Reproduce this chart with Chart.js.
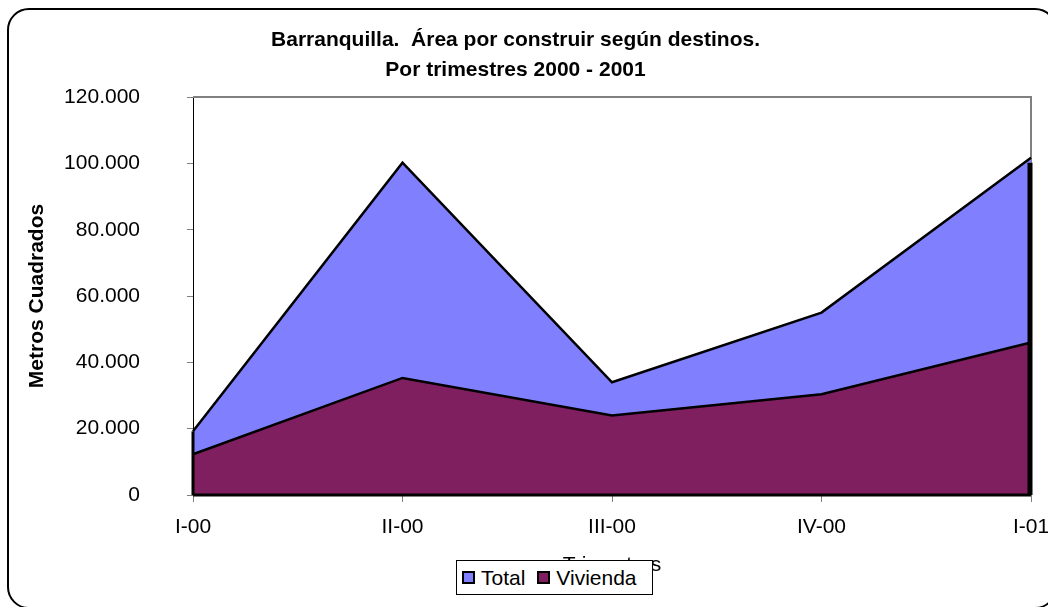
<!doctype html>
<html>
<head>
    <meta charset="UTF-8"/>
    <title>Barranquilla</title>
    <style type="text/css">
        body{ margin:0; background:#fff; overflow:hidden; }
        .frame{
            position:absolute; left:7px; top:8px; width:1050px; height:601px;
            border:2px solid #000; border-radius:22px; box-sizing:border-box;
        }
        .chartBox{ position:absolute; left:0; top:0; width:1048px; height:607px; }
        .legend{
            position:absolute; left:456px; top:560px; width:197px; height:35px;
            background:#fff; border:1px solid #000; box-sizing:border-box;
            font-family:"Liberation Sans", Arial, sans-serif; font-size:21px;
            display:flex; align-items:center; padding-left:5px;
        }
        .legend span.box{
            display:inline-block; width:9px; height:9px; border:2px solid #000;
            margin-right:6px;
        }
        .legend span.item{ margin-right:12px; display:flex; align-items:center; }
    </style>
</head>
<body>
    <div class="frame"></div>
    <div class="chartBox">
        <canvas id="myChart" width="1048" height="607"></canvas>
    </div>
    <div class="legend">
        <span class="item"><span class="box" style="background:#8080FF"></span>Total</span>
        <span class="item"><span class="box" style="background:#7F1F5F"></span>Vivienda</span>
    </div>

    <script src="https://cdn.jsdelivr.net/npm/chart.js"></script>

    <script>
        const labels = ['I-00', 'II-00', 'III-00', 'IV-00', 'I-01'];
        const totalData = [19200, 100200, 34000, 55000, 101700];
        const viviendaData = [12300, 35300, 24000, 30400, 46000];
        const yTicks = [0, 20000, 40000, 60000, 80000, 100000, 120000];

        const font = 'Liberation Sans, Arial, sans-serif';

        function fmt(v) {
            return String(v).replace(/\B(?=(\d{3})+(?!\d))/g, '.');
        }

        // plot border and the dark edges at both ends of the area
        const edges = {
            id: 'edges',
            beforeDatasetsDraw(chart) {
                const a = chart.chartArea;
                const ctx = chart.ctx;
                ctx.save();
                ctx.strokeStyle = '#808080';
                ctx.lineWidth = 2;
                ctx.beginPath();
                ctx.moveTo(a.left, a.top);
                ctx.lineTo(a.right, a.top);
                ctx.lineTo(a.right, a.bottom);
                ctx.stroke();
                ctx.restore();
            },
            afterDatasetsDraw(chart) {
                const x = chart.scales.x, y = chart.scales.y;
                const ctx = chart.ctx;
                const n = labels.length - 1;
                ctx.save();
                ctx.strokeStyle = '#000';
                ctx.lineWidth = 3;
                ctx.beginPath();
                ctx.moveTo(x.getPixelForValue(0), y.getPixelForValue(0));
                ctx.lineTo(x.getPixelForValue(0), y.getPixelForValue(totalData[0]));
                ctx.stroke();
                ctx.lineWidth = 5;
                ctx.beginPath();
                ctx.moveTo(x.getPixelForValue(n) - 1, y.getPixelForValue(0));
                ctx.lineTo(x.getPixelForValue(n) - 1, y.getPixelForValue(totalData[n]) + 5);
                ctx.stroke();
                ctx.lineWidth = 3;
                ctx.beginPath();
                ctx.moveTo(x.left, y.getPixelForValue(0));
                ctx.lineTo(x.right, y.getPixelForValue(0));
                ctx.stroke();
                ctx.restore();
            }
        };

        const data = {
            labels: labels,
            datasets: [
                {
                    label: 'Total',
                    data: totalData,
                    backgroundColor: '#8080FF',
                    borderColor: '#000',
                    borderWidth: 2.5,
                    fill: 'origin',
                    pointRadius: 0,
                    tension: 0,
                    order: 2
                },
                {
                    label: 'Vivienda',
                    data: viviendaData,
                    backgroundColor: '#7F1F5F',
                    borderColor: '#000',
                    borderWidth: 2.5,
                    fill: 'origin',
                    pointRadius: 0,
                    tension: 0,
                    order: 1
                }
            ]
        };

        const config = {
            type: 'line',
            data: data,
            plugins: [edges],
            options: {
                responsive: false,
                animation: false,
                layout: { padding: { left: 0, right: 17, top: 0, bottom: 0 } },
                plugins: {
                    legend: { display: false },
                    tooltip: { enabled: false },
                    title: {
                        display: true,
                        text: ['Barranquilla.  Área por construir según destinos.', 'Por trimestres 2000 - 2001'],
                        color: '#000',
                        font: { family: font, size: 21, weight: 'bold', lineHeight: 1.43 },
                        padding: { top: 25, bottom: 12 }
                    }
                },
                scales: {
                    x: {
                        offset: false,
                        grid: { display: true, drawOnChartArea: false, drawTicks: true, tickLength: 7, color: '#808080' },
                        border: { display: false },
                        ticks: { color: '#000', font: { family: font, size: 21 }, padding: 13, maxRotation: 0 },
                        title: {
                            display: true, text: 'Trimestres', color: '#000',
                            font: { family: font, size: 21 }, padding: { top: 4, bottom: 29 }
                        },
                        afterFit(scale) {
                            scale.height = 112;
                            scale.paddingLeft = 0;
                            scale.paddingRight = 0;
                        }
                    },
                    y: {
                        min: 0,
                        max: 120000,
                        afterBuildTicks(scale) { scale.ticks = yTicks.map(v => ({ value: v })); },
                        grid: { display: true, drawOnChartArea: false, drawTicks: true, tickLength: 6, color: '#808080' },
                        border: { display: true, color: '#000', width: 1 },
                        ticks: { color: '#000', font: { family: font, size: 21 }, padding: 47, callback: v => fmt(v) },
                        title: {
                            display: true, text: 'Metros Cuadrados', color: '#000',
                            font: { family: font, size: 21, weight: 'bold' }, padding: { top: 25, bottom: 0 }
                        },
                        afterFit(scale) {
                            scale.width = 193;
                            scale.paddingTop = 0;
                            scale.paddingBottom = 0;
                        }
                    }
                }
            }
        };

        const myChart = new Chart(document.getElementById('myChart'), config);
    </script>
</body>
</html>
